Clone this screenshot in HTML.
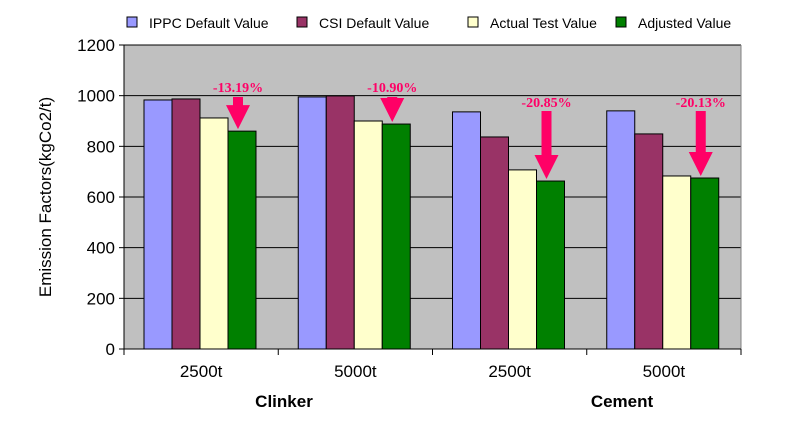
<!DOCTYPE html>
<html><head><meta charset="utf-8"><style>
body{margin:0;background:#fff;}
svg text{font-family:"Liberation Sans",sans-serif;}
</style></head><body>
<svg id="chart" width="787" height="423" viewBox="0 0 787 423" xmlns="http://www.w3.org/2000/svg"></svg>
<script>
const categories = ["2500t","5000t","2500t","5000t"];
const groupLabels = ["Clinker","Cement"];
const seriesNames = ["IPPC Default Value","CSI Default Value","Actual Test Value","Adjusted Value"];
const ippc = [983, 995, 936, 940];
const csi = [987, 999, 837, 849];
const actual = [912, 900, 707, 683];
const adjusted = [860, 888, 663, 675];
const reductions = ["-13.19%","-10.90%","-20.85%","-20.13%"];
const yTicks = [0,200,400,600,800,1000,1200];
const colors = ["#9999ff","#993366","#ffffcc","#008000"];
const series = [ippc, csi, actual, adjusted];

const svg = document.getElementById('chart');
const NS = "http://www.w3.org/2000/svg";
const L=124, R=741, T=45, B=349;
const y = v => B - (v/1200)*(B-T);
const gw = (R-L)/categories.length;
const gx = i => L + i*gw;
function mk(tag, attrs, parent){const e=document.createElementNS(NS,tag);for(const k in attrs)e.setAttribute(k,attrs[k]);(parent||svg).appendChild(e);return e;}

let bg = mk('rect',{x:L,y:T,width:R-L,height:B-T,fill:'#c0c0c0'});


yTicks.forEach(t=>{
  if(t>0){let g=mk('line',{x1:L,x2:R,y1:y(t),y2:y(t),stroke:'#000','stroke-width':1});
  
  }
  mk('line',{x1:L-5,x2:L,y1:y(t),y2:y(t),stroke:'#000'});
  let tx=mk('text',{x:L-9,y:y(t)+6,'text-anchor':'end','font-size':17});
  tx.textContent=t;
  
  
});
mk('line',{x1:R,x2:R,y1:T,y2:B,stroke:'#808080'});
mk('line',{x1:L,x2:L,y1:T,y2:B,stroke:'#000'});
mk('line',{x1:L,x2:R,y1:B,y2:B,stroke:'#000'});
for(let i=0;i<=categories.length;i++) mk('line',{x1:gx(i),x2:gx(i),y1:B,y2:B+6,stroke:'#000'});

const bw=28, off=20;
categories.forEach((c,i)=>{
  series.forEach((s,j)=>{
    let r=mk('rect',{x:gx(i)+off+j*bw,y:y(s[i]),width:bw,height:B-y(s[i]),fill:colors[j],stroke:'#000','stroke-width':1});
    
    
  });
  let t=mk('text',{x:gx(i)+gw/2,y:377,'text-anchor':'middle','font-size':17});
  t.textContent=c;
  
  
  // arrow
  const ax = gx(i)+off+3*bw+bw/2-4;
  const tipY = y(adjusted[i])-2;
  const topY = y(Math.max(ippc[i],csi[i]))- (i<2? -2 : 0);
  const lab = mk('text',{x:ax,y:i<2?92:107,'text-anchor':'middle','font-size':14,'font-weight':'bold',fill:'#ff0066','font-family':'Liberation Serif'});
  lab.style.fontFamily='"Liberation Serif",serif';
  lab.textContent=reductions[i];
  
  
  const sy = i<2?97:111;
  const hy = tipY-24;
  const a=mk('path',{d:`M${ax-5},${sy} L${ax+5},${sy} L${ax+5},${hy} L${ax+12},${hy} L${ax},${tipY} L${ax-12},${hy} L${ax-5},${hy} Z`,fill:'#ff0066'});
  
  
});
groupLabels.forEach((g,k)=>{
  let t=mk('text',{x:k===0?284:622,y:407,'text-anchor':'middle','font-size':17,'font-weight':'bold'});
  t.textContent=g;
  
  
});
let yt=mk('text',{x:0,y:0,'text-anchor':'middle','font-size':17,transform:`translate(51,${(T+B)/2}) rotate(-90)`});
yt.textContent='Emission Factors(kgCo2/t)';



const lx=[127,297,468,616];
seriesNames.forEach((n,j)=>{
  let g=mk('g',{});
  
  
  mk('rect',{x:lx[j],y:17,width:10,height:10,fill:colors[j],stroke:'#000'},g);
  let t=mk('text',{x:lx[j]+22,y:28,'font-size':14},g);
  t.textContent=n;
});
</script>
</body></html>
